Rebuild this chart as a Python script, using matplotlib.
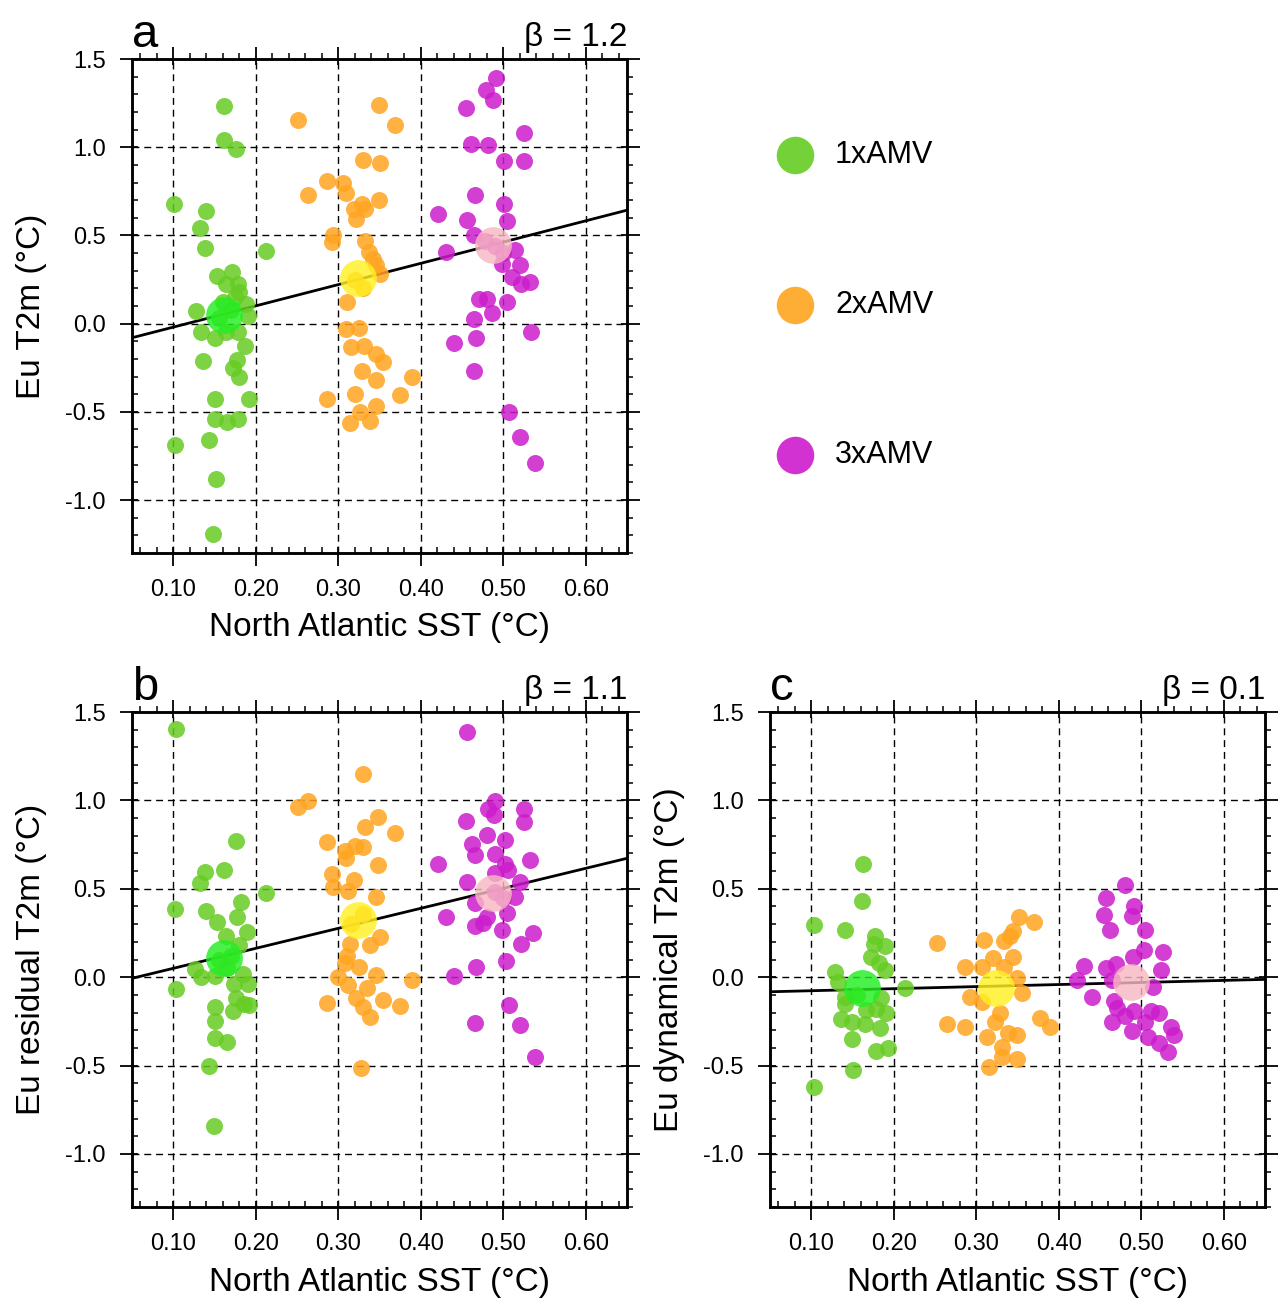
import numpy as np
import matplotlib.pyplot as plt
from matplotlib.ticker import MultipleLocator

plt.rcParams['font.family'] = ['Liberation Sans', 'DejaVu Sans']
plt.rcParams['axes.unicode_minus'] = False

labels = ['1xAMV', '2xAMV', '3xAMV']
colors = ['#66cc22', '#ffa51f', '#cc1ccc']
mean_colors = ['#22ee22', '#fff022', '#f7b8c2']

# ensemble means (x = North Atlantic SST)
mean_sst = [0.162, 0.324, 0.488]
mean_a = [0.05, 0.26, 0.443]
mean_b = [0.11, 0.324, 0.479]
mean_c = [-0.063, -0.063, -0.025]

# panel a: Eu T2m
sst_a1 = [0.161, 0.161, 0.176, 0.101, 0.140, 0.132, 0.138, 0.213, 0.153, 0.171, 0.164, 0.179,
          0.128, 0.188, 0.190, 0.134, 0.150, 0.164, 0.178, 0.187, 0.136, 0.177, 0.173, 0.180,
          0.150, 0.192, 0.151, 0.165, 0.178, 0.102, 0.143, 0.152, 0.148, 0.155, 0.170, 0.175,
          0.160, 0.180]
t2m_a1 = [1.235, 1.04, 0.99, 0.676, 0.636, 0.54, 0.43, 0.41, 0.27, 0.295, 0.225, 0.225,
          0.074, 0.11, 0.045, -0.05, -0.08, -0.05, -0.05, -0.125, -0.21, -0.205, -0.25, -0.30,
          -0.43, -0.43, -0.54, -0.555, -0.54, -0.69, -0.66, -0.88, -1.195, 0.03, 0.08, 0.15,
          0.12, 0.18]
sst_a2 = [0.251, 0.349, 0.369, 0.330, 0.350, 0.286, 0.306, 0.263, 0.309, 0.349, 0.329, 0.319,
          0.332, 0.322, 0.294, 0.292, 0.333, 0.337, 0.342, 0.346, 0.350, 0.320, 0.330, 0.311,
          0.309, 0.325, 0.316, 0.331, 0.346, 0.354, 0.329, 0.346, 0.389, 0.286, 0.320, 0.375,
          0.326, 0.346, 0.314, 0.338]
t2m_a2 = [1.153, 1.24, 1.125, 0.93, 0.913, 0.81, 0.797, 0.727, 0.74, 0.70, 0.68, 0.648,
          0.648, 0.595, 0.50, 0.462, 0.47, 0.405, 0.367, 0.33, 0.28, 0.25, 0.20, 0.12,
          -0.03, -0.025, -0.13, -0.125, -0.17, -0.22, -0.27, -0.32, -0.305, -0.43, -0.40, -0.405,
          -0.50, -0.465, -0.565, -0.55]
sst_a3 = [0.491, 0.479, 0.488, 0.455, 0.525, 0.461, 0.481, 0.501, 0.525, 0.466, 0.501, 0.421,
          0.456, 0.505, 0.465, 0.431, 0.514, 0.499, 0.520, 0.510, 0.522, 0.533, 0.471, 0.480,
          0.504, 0.486, 0.465, 0.440, 0.467, 0.534, 0.465, 0.507, 0.520, 0.539, 0.490, 0.478,
          0.500]
t2m_a3 = [1.39, 1.324, 1.267, 1.225, 1.078, 1.02, 1.01, 0.92, 0.924, 0.727, 0.68, 0.623,
          0.589, 0.58, 0.50, 0.405, 0.415, 0.339, 0.33, 0.263, 0.225, 0.235, 0.14, 0.14,
          0.12, 0.06, 0.026, -0.11, -0.083, -0.045, -0.27, -0.50, -0.645, -0.79, 0.44, 0.47,
          0.40]

# panel b: Eu residual T2m
sst_b1 = [0.103, 0.176, 0.161, 0.139, 0.132, 0.213, 0.102, 0.140, 0.182, 0.153, 0.177, 0.189,
          0.164, 0.180, 0.126, 0.134, 0.150, 0.103, 0.174, 0.190, 0.184, 0.176, 0.186, 0.173,
          0.192, 0.150, 0.151, 0.151, 0.165, 0.143, 0.149, 0.155, 0.170, 0.165]
t2m_b1 = [1.403, 0.769, 0.604, 0.593, 0.532, 0.476, 0.385, 0.377, 0.428, 0.314, 0.34, 0.257,
          0.233, 0.18, 0.049, 0.002, 0.006, -0.064, -0.036, -0.036, 0.02, -0.12, -0.15, -0.19,
          -0.16, -0.17, -0.25, -0.343, -0.367, -0.50, -0.84, 0.10, 0.12, 0.05]
sst_b2 = [0.330, 0.251, 0.263, 0.348, 0.369, 0.332, 0.286, 0.308, 0.320, 0.330, 0.309, 0.348,
          0.292, 0.294, 0.319, 0.312, 0.346, 0.315, 0.330, 0.350, 0.314, 0.338, 0.308, 0.346,
          0.312, 0.286, 0.322, 0.330, 0.338, 0.327, 0.389, 0.354, 0.375, 0.310, 0.325, 0.300,
          0.335]
t2m_b2 = [1.148, 0.964, 0.996, 0.907, 0.816, 0.848, 0.765, 0.712, 0.74, 0.735, 0.674, 0.636,
          0.585, 0.513, 0.551, 0.485, 0.456, 0.30, 0.36, 0.229, 0.19, 0.18, 0.078, 0.01,
          -0.045, -0.146, -0.12, -0.168, -0.225, -0.513, -0.017, -0.13, -0.165, 0.12, 0.06, 0.0,
          -0.06]
sst_b3 = [0.456, 0.490, 0.481, 0.489, 0.525, 0.525, 0.455, 0.480, 0.502, 0.462, 0.466, 0.490,
          0.421, 0.533, 0.502, 0.506, 0.490, 0.456, 0.520, 0.514, 0.466, 0.431, 0.480, 0.505,
          0.466, 0.476, 0.499, 0.536, 0.522, 0.503, 0.467, 0.440, 0.507, 0.466, 0.520, 0.539,
          0.490, 0.500]
t2m_b3 = [1.385, 0.996, 0.953, 0.92, 0.953, 0.879, 0.882, 0.807, 0.778, 0.756, 0.693, 0.699,
          0.64, 0.661, 0.642, 0.604, 0.589, 0.541, 0.541, 0.456, 0.419, 0.343, 0.343, 0.362,
          0.29, 0.305, 0.267, 0.248, 0.19, 0.091, 0.055, 0.006, -0.159, -0.26, -0.273, -0.453,
          0.48, 0.45]

# panel c: Eu dynamical T2m
sst_c1 = [0.163, 0.162, 0.103, 0.141, 0.177, 0.190, 0.176, 0.172, 0.129, 0.133, 0.190, 0.182,
          0.214, 0.184, 0.141, 0.178, 0.191, 0.166, 0.136, 0.150, 0.165, 0.183, 0.149, 0.178,
          0.193, 0.151, 0.103, 0.141, 0.155]
t2m_c1 = [0.638, 0.43, 0.297, 0.265, 0.231, 0.178, 0.189, 0.117, 0.032, -0.025, 0.041, 0.08,
          -0.063, -0.12, -0.152, -0.182, -0.20, -0.186, -0.239, -0.252, -0.265, -0.286, -0.347, -0.417,
          -0.403, -0.527, -0.622, -0.11, -0.10]
sst_c2 = [0.252, 0.352, 0.344, 0.334, 0.309, 0.344, 0.320, 0.287, 0.307, 0.334, 0.350, 0.292,
          0.307, 0.329, 0.323, 0.264, 0.287, 0.313, 0.338, 0.350, 0.331, 0.350, 0.331, 0.315,
          0.370, 0.341, 0.355, 0.377, 0.389]
t2m_c2 = [0.193, 0.341, 0.259, 0.202, 0.212, 0.117, 0.108, 0.06, 0.06, 0.06, -0.006, -0.112,
          -0.139, -0.205, -0.252, -0.265, -0.28, -0.337, -0.318, -0.328, -0.394, -0.46, -0.45, -0.508,
          0.31, 0.231, -0.091, -0.233, -0.284]
sst_c3 = [0.480, 0.457, 0.491, 0.489, 0.455, 0.462, 0.505, 0.503, 0.527, 0.490, 0.524, 0.431,
          0.457, 0.469, 0.422, 0.464, 0.514, 0.440, 0.467, 0.471, 0.491, 0.512, 0.522, 0.480,
          0.465, 0.505, 0.489, 0.536, 0.540, 0.508, 0.521, 0.533]
t2m_c3 = [0.524, 0.449, 0.405, 0.344, 0.35, 0.269, 0.269, 0.155, 0.14, 0.114, 0.041, 0.066,
          0.051, 0.076, -0.015, -0.015, -0.053, -0.114, -0.133, -0.176, -0.19, -0.19, -0.205, -0.22,
          -0.252, -0.252, -0.303, -0.281, -0.328, -0.337, -0.372, -0.423]

x_major = [0.10, 0.20, 0.30, 0.40, 0.50, 0.60]
y_major = [-1.0, -0.5, 0.0, 0.5, 1.0, 1.5]


def style_ticks(ax):
    ax.set_xticks(x_major)
    ax.set_xticklabels(['%.2f' % v for v in x_major])
    ax.set_yticks(y_major)
    ax.set_yticklabels(['%.1f' % v for v in y_major])
    ax.tick_params(which='major', direction='out', length=9, width=1.3,
                   top=True, right=True, labelsize=17, pad=10)
    ax.tick_params(which='minor', bottom=False, left=False, top=False, right=False)
    for s in ax.spines.values():
        s.set_linewidth(1.8)
    # inner/outer tick halves like the NCL style
    for loc, out_minor in [('bottom', False), ('top', True)]:
        sx = ax.secondary_xaxis(loc)
        sx.set_xticks(x_major)
        sx.xaxis.set_minor_locator(MultipleLocator(0.02))
        sx.tick_params(which='major', direction='in', length=4.5, width=1.3,
                       labelbottom=False, labeltop=False)
        sx.tick_params(which='minor', direction='out' if out_minor else 'in',
                       length=4.5, width=1.1)
        sx.spines[loc].set_linewidth(1.8)
    for loc, out_minor in [('left', False), ('right', True)]:
        sy = ax.secondary_yaxis(loc)
        sy.set_yticks(y_major)
        sy.yaxis.set_minor_locator(MultipleLocator(0.1))
        sy.tick_params(which='major', direction='in', length=4.5, width=1.3,
                       labelleft=False, labelright=False)
        sy.tick_params(which='minor', direction='out' if out_minor else 'in',
                       length=4.5, width=1.1)
        sy.spines[loc].set_linewidth(1.8)


def panel(ax, xs, ys, means, letter, beta, ylabel):
    ax.set_xlim(0.05, 0.65)
    ax.set_ylim(-1.3, 1.5)
    ax.set_axisbelow(True)
    ax.grid(True, color='k', linestyle=(0, (5, 3.5)), linewidth=1.0)

    k, b0 = np.polyfit(mean_sst, means, 1)
    xl = np.array(ax.get_xlim())
    ax.plot(xl, k * xl + b0, color='k', lw=2.0, zorder=2)

    for x, y, c in zip(xs, ys, colors):
        ax.scatter(x, y, s=150, color=c, alpha=0.85, linewidths=0, zorder=3)
    for i in range(3):
        ax.scatter(mean_sst[i], means[i], s=700, color=mean_colors[i],
                   alpha=0.82, linewidths=0, zorder=4)

    style_ticks(ax)
    ax.set_xlabel('North Atlantic SST (°C)', fontsize=24, labelpad=8)
    ax.set_ylabel(ylabel, fontsize=24, labelpad=13)
    ax.text(0.0, 1.005, letter, transform=ax.transAxes, fontsize=34,
            ha='left', va='bottom')
    ax.text(1.0, 1.012, beta, transform=ax.transAxes, fontsize=24,
            ha='right', va='bottom')


fig = plt.figure(figsize=(12.88, 13.06), dpi=100)
ax_a = fig.add_axes([0.1025, 0.5766, 0.3843, 0.3782])
ax_b = fig.add_axes([0.1025, 0.0758, 0.3843, 0.3790])
ax_c = fig.add_axes([0.5978, 0.0758, 0.3843, 0.3790])

panel(ax_a, [sst_a1, sst_a2, sst_a3], [t2m_a1, t2m_a2, t2m_a3], mean_a,
      'a', 'β = 1.2', 'Eu T2m (°C)')
panel(ax_b, [sst_b1, sst_b2, sst_b3], [t2m_b1, t2m_b2, t2m_b3], mean_b,
      'b', 'β = 1.1', 'Eu residual T2m (°C)')
panel(ax_c, [sst_c1, sst_c2, sst_c3], [t2m_c1, t2m_c2, t2m_c3], mean_c,
      'c', 'β = 0.1', 'Eu dynamical T2m (°C)')

# legend
leg_y = [0.8813, 0.7665, 0.6516]
for lab, c, yy in zip(labels, colors, leg_y):
    fig.add_artist(plt.Line2D([0.6172], [yy], marker='o', markersize=27,
                              color=c, alpha=0.9, markeredgewidth=0,
                              transform=fig.transFigure))
    fig.text(0.6483, yy, lab, fontsize=22, va='center', ha='left')

fig.savefig('out.png', dpi=100)
